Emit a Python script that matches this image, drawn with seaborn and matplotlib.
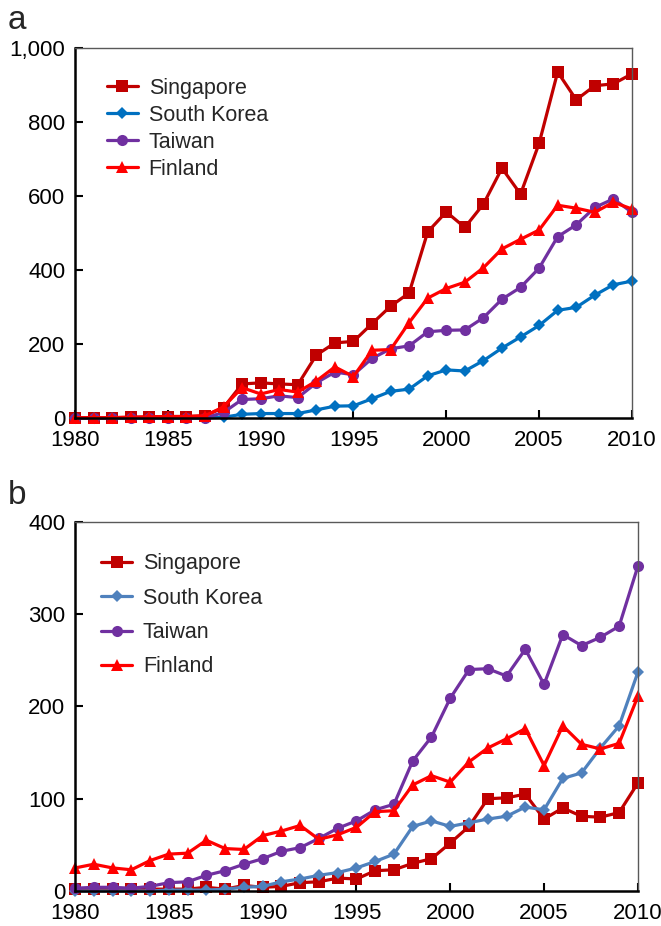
import numpy as np
import pandas as pd
import seaborn as sns
import matplotlib.pyplot as plt
from matplotlib.ticker import FuncFormatter

years = list(range(1980, 2011))
countries = ['Singapore', 'South Korea', 'Taiwan', 'Finland']

# panel a
sing_a = [1, 1, 1, 2, 3, 4, 4, 6, 28, 92, 95, 92, 90, 170, 203, 207, 255, 302, 338, 503,
          557, 515, 578, 675, 605, 742, 935, 860, 898, 903, 930]
korea_a = [0, 0, 0, 0, 0, 0, 0, 0, 2, 10, 12, 12, 12, 22, 32, 33, 52, 72, 78, 114,
           130, 127, 155, 189, 219, 250, 291, 299, 332, 360, 370]
taiwan_a = [0, 0, 0, 0, 0, 0, 0, 0, 15, 50, 52, 60, 55, 95, 124, 117, 161, 187, 195, 233,
            237, 238, 271, 321, 353, 405, 490, 522, 569, 592, 556]
finland_a = [1, 1, 1, 2, 3, 4, 4, 6, 30, 82, 65, 77, 70, 100, 138, 112, 183, 185, 258, 324,
             350, 367, 406, 457, 483, 508, 575, 567, 556, 583, 565]

# panel b
sing_b = [2, 2, 2, 2, 2, 2, 2, 4, 2, 6, 4, 5, 9, 10, 14, 13, 22, 23, 30, 35,
          52, 70, 100, 101, 105, 78, 90, 81, 80, 85, 117]
korea_b = [0, 0, 0, 0, 0, 1, 1, 1, 2, 4, 5, 10, 13, 17, 20, 25, 32, 40, 70, 76,
           70, 74, 78, 81, 91, 88, 122, 128, 155, 179, 237]
taiwan_b = [3, 4, 4, 3, 5, 9, 10, 17, 22, 29, 35, 43, 47, 57, 68, 76, 88, 94, 141, 167,
            209, 240, 241, 233, 262, 224, 278, 266, 275, 287, 352]
finland_b = [25, 29, 25, 23, 33, 40, 41, 55, 46, 45, 60, 65, 71, 56, 61, 69, 86, 87, 115, 125,
             118, 140, 155, 165, 176, 136, 179, 159, 154, 160, 211]

markers = {'Singapore': 's', 'South Korea': 'D', 'Taiwan': 'o', 'Finland': '^'}
msizes = {'Singapore': 8.5, 'South Korea': 6, 'Taiwan': 8, 'Finland': 9}
colors_a = {'Singapore': '#C00000', 'South Korea': '#0070C0', 'Taiwan': '#7030A0', 'Finland': '#FF0000'}
colors_b = {'Singapore': '#C00000', 'South Korea': '#4F81BD', 'Taiwan': '#7030A0', 'Finland': '#FF0000'}

sns.set_style('white')
plt.rcParams['font.family'] = ['Liberation Sans', 'DejaVu Sans']

fig = plt.figure(figsize=(6.61, 9.26), dpi=100)
ax_a = fig.add_axes([0.1135, 0.5486, 0.8425, 0.3996])
ax_b = fig.add_axes([0.1135, 0.0378, 0.8515, 0.3985])


def draw(ax, series, colors, ymax, ystep, legend_x, legend_y, spacing):
    for name, vals in zip(countries, series):
        df = pd.DataFrame({'year': years, 'value': vals})
        sns.lineplot(data=df, x='year', y='value', ax=ax, color=colors[name],
                     marker=markers[name], markersize=msizes[name], markeredgewidth=0,
                     linewidth=2.3, label=name, clip_on=False)
    ax.set_xlim(1980, 2010)
    ax.set_ylim(0, ymax)
    ax.set_xticks(range(1980, 2011, 5))
    ax.set_yticks(np.arange(0, ymax + 1, ystep))
    ax.set_xlabel('')
    ax.set_ylabel('')
    ax.tick_params(direction='in', length=6, width=1.5, labelsize=16, color='black',
                   labelcolor='black', bottom=True, left=True)
    ax.tick_params(axis='x', pad=9)
    ax.tick_params(axis='y', pad=7)
    for s in ['left', 'bottom']:
        ax.spines[s].set_color('black')
        ax.spines[s].set_linewidth(1.8)
    for s in ['top', 'right']:
        ax.spines[s].set_color('#595959')
        ax.spines[s].set_linewidth(1.0)
    leg = ax.legend(loc='upper left', bbox_to_anchor=(legend_x, legend_y), frameon=False,
                    fontsize=15.5, handlelength=1.45, handletextpad=0.5, labelspacing=spacing,
                    borderaxespad=0, borderpad=0)
    return leg


draw(ax_a, [sing_a, korea_a, taiwan_a, finland_a], colors_a, 1000, 200, 0.057, 0.92, 0.28)
ax_a.yaxis.set_major_formatter(FuncFormatter(lambda v, p: f'{int(v):,}'))
draw(ax_b, [sing_b, korea_b, taiwan_b, finland_b], colors_b, 400, 100, 0.046, 0.915, 0.62)

fig.text(0.012, 0.978, 'a', fontsize=24, va='center', ha='left')
fig.text(0.012, 0.465, 'b', fontsize=24, va='center', ha='left')

fig.savefig('out.png', dpi=100)
